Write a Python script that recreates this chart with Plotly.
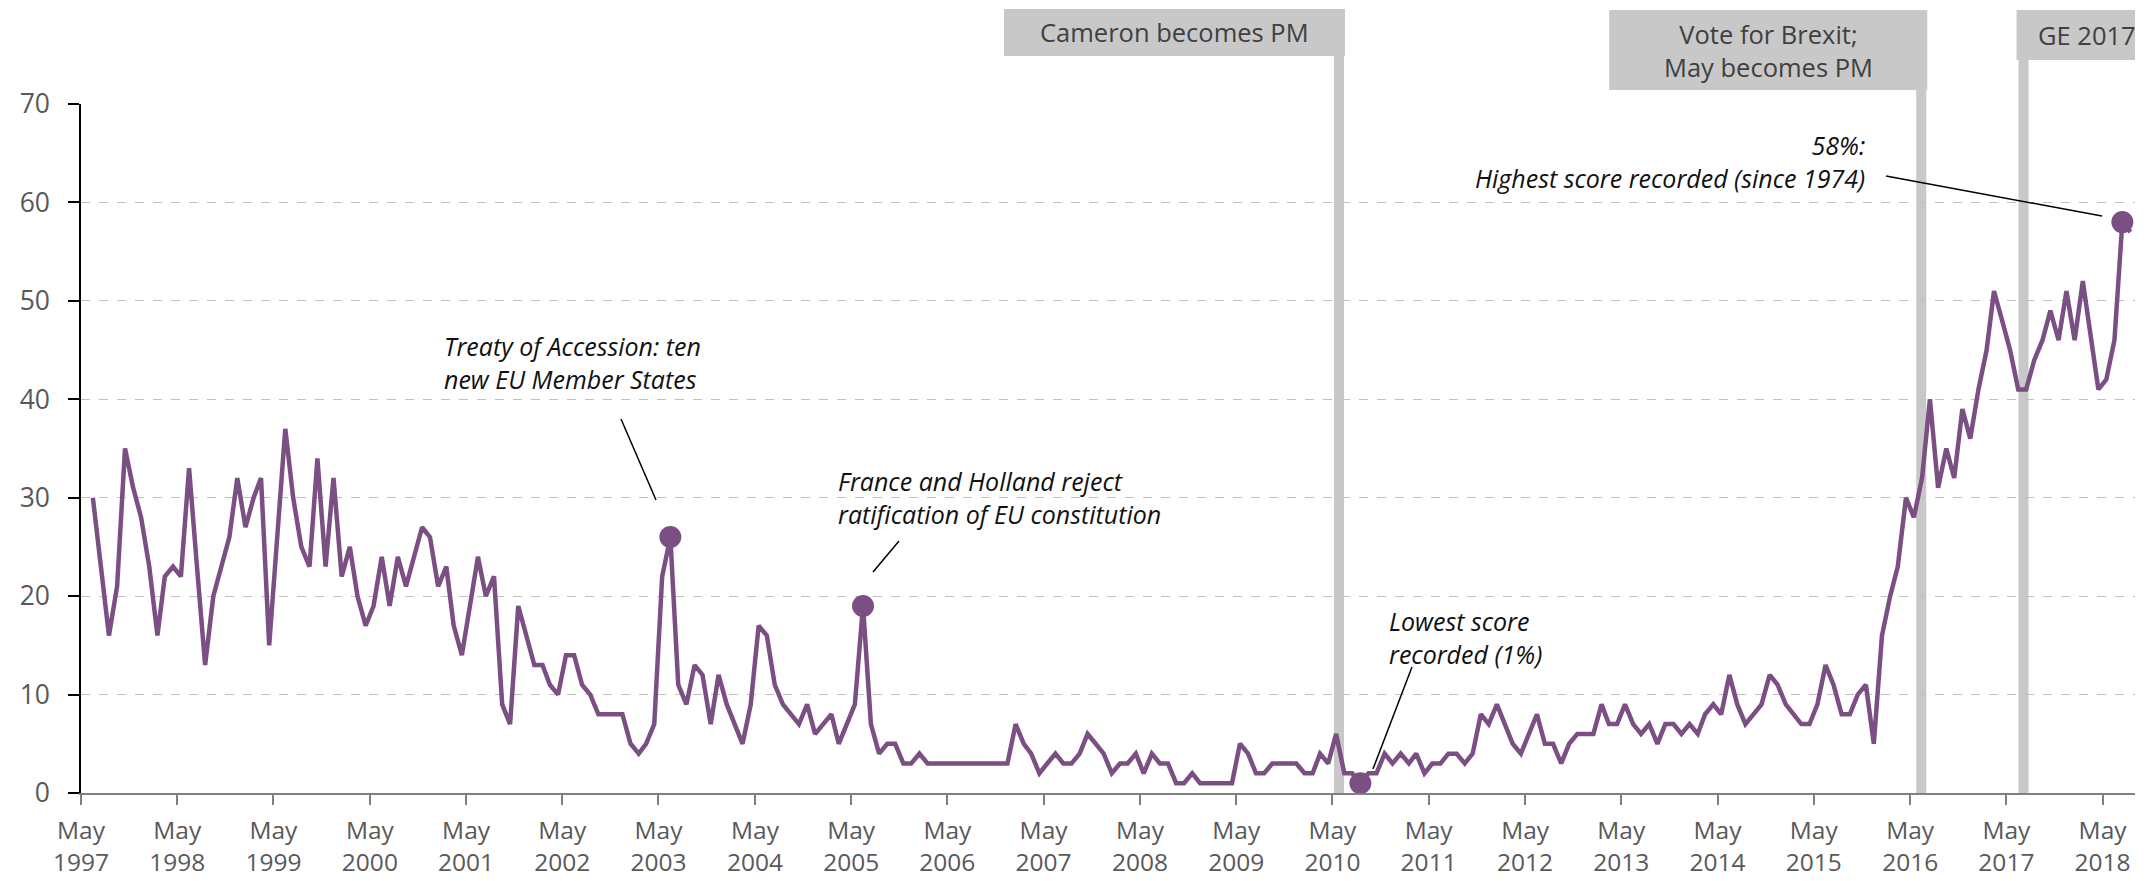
import pandas as pd
import plotly.graph_objects as go

# ---------------- data ----------------
start_month = "1997-06"
eu_concern = [
    30, 23, 16, 21, 35, 31, 28, 23, 16, 22, 23, 22,      # 1997-06 .. 1998-05
    33, 23, 13, 20, 23, 26, 32, 27, 30, 32, 15, 26,      # 1998-06 .. 1999-05
    37, 30, 25, 23, 34, 23, 32, 22, 25, 20, 17, 19,      # 1999-06 .. 2000-05
    24, 19, 24, 21, 24, 27, 26, 21, 23, 17, 14, 19,      # 2000-06 .. 2001-05
    24, 20, 22, 9, 7, 19, 16, 13, 13, 11, 10, 14,        # 2001-06 .. 2002-05
    14, 11, 10, 8, 8, 8, 8, 5, 4, 5, 7, 22,              # 2002-06 .. 2003-05
    26, 11, 9, 13, 12, 7, 12, 9, 7, 5, 9, 17,            # 2003-06 .. 2004-05
    16, 11, 9, 8, 7, 9, 6, 7, 8, 5, 7, 9,                # 2004-06 .. 2005-05
    19, 7, 4, 5, 5, 3, 3, 4, 3, 3, 3, 3,                 # 2005-06 .. 2006-05
    3, 3, 3, 3, 3, 3, 3, 7, 5, 4, 2, 3,                  # 2006-06 .. 2007-05
    4, 3, 3, 4, 6, 5, 4, 2, 3, 3, 4, 2,                  # 2007-06 .. 2008-05
    4, 3, 3, 1, 1, 2, 1, 1, 1, 1, 1, 5,                  # 2008-06 .. 2009-05
    4, 2, 2, 3, 3, 3, 3, 2, 2, 4, 3, 6,                  # 2009-06 .. 2010-05
    2, 2, 1, 2, 2, 4, 3, 4, 3, 4, 2, 3,                  # 2010-06 .. 2011-05
    3, 4, 4, 3, 4, 8, 7, 9, 7, 5, 4, 6,                  # 2011-06 .. 2012-05
    8, 5, 5, 3, 5, 6, 6, 6, 9, 7, 7, 9,                  # 2012-06 .. 2013-05
    7, 6, 7, 5, 7, 7, 6, 7, 6, 8, 9, 8,                  # 2013-06 .. 2014-05
    12, 9, 7, 8, 9, 12, 11, 9, 8, 7, 7, 9,               # 2014-06 .. 2015-05
    13, 11, 8, 8, 10, 11, 5, 16, 20, 23, 30, 28,         # 2015-06 .. 2016-05
    32, 40, 31, 35, 32, 39, 36, 41, 45, 51, 48, 45,      # 2016-06 .. 2017-05
    41, 41, 44, 46, 49, 46, 51, 46, 52, 47, 41, 42,      # 2017-06 .. 2018-05
    46, 58, 57,                                          # 2018-06 .. 2018-08
]

years = list(range(1997, 2019))
tick_labels = [f"May<br>{y}" for y in years]

event_labels = ["Cameron becomes PM", "Vote for Brexit;<br>May becomes PM", "GE 2017"]
event_dates = ["2010-05-26", "2016-06-12", "2017-07-05"]

highlight_months = ["2003-06", "2005-06", "2010-08", "2018-07"]
note_texts = [
    "Treaty of Accession: ten<br>new EU Member States",
    "France and Holland reject<br>ratification of EU constitution",
    "Lowest score<br>recorded (1%)",
    "58%:<br>Highest score recorded (since 1974)",
]

# ---------------- derived series ----------------
months = pd.period_range(start_month, periods=len(eu_concern), freq="M")
x_dates = months.to_timestamp() + pd.Timedelta(days=14)
series = pd.Series(eu_concern, index=months.astype(str))
hl_dates = [pd.Period(m, freq="M").to_timestamp() + pd.Timedelta(days=14) for m in highlight_months]
hl_values = [series[m] for m in highlight_months]

# ---------------- geometry / style ----------------
W, H = 2151, 881
L, R, T, B = 81, 16, 104, 88
PW, PH = W - L - R, H - T - B
PURPLE = "#7b4f84"
GREY_BOX = "#c8c8c8"
FONT = "Open Sans"


def px(x):
    return (x - L) / PW


def py(y):
    return (H - B - y) / PH


fig = go.Figure()
fig.add_trace(go.Scatter(x=x_dates, y=eu_concern, mode="lines",
                         line=dict(color=PURPLE, width=4.5), hoverinfo="x+y"))
fig.add_trace(go.Scatter(x=hl_dates, y=hl_values, mode="markers",
                         marker=dict(size=22, color=PURPLE)))

shapes = []
annotations = []

# event bars and boxes (box pixel extents relative to bar centre, top/bottom in px)
box_geom = [(-335, 6, 9, 56, -165), (-312, 6, 10, 90, -153), (-7, 128, 10, 60, 63)]
for lab, d, (bx0, bx1, btop, bbot, tx) in zip(event_labels, event_dates, box_geom):
    shapes.append(dict(type="line", xref="x", yref="paper", x0=d, x1=d, y0=0, y1=py(bbot),
                       line=dict(color=GREY_BOX, width=10), layer="between"))
    shapes.append(dict(type="rect", xref="x", xsizemode="pixel", xanchor=d, x0=bx0, x1=bx1,
                       yref="paper", y0=py(bbot), y1=py(btop), fillcolor=GREY_BOX,
                       line=dict(width=0), layer="between"))
    annotations.append(dict(x=d, xref="x", xshift=tx, y=py((btop + bbot) / 2), yref="paper",
                            text=lab, showarrow=False, xanchor="center", yanchor="middle",
                            font=dict(family=FONT, size=25.5, color="#404040")))

# notes: (anchor x px, centre y px, xanchor)
note_geom = [(442, 362, "left"), (836, 497, "left"), (1387, 637, "left"), (1867, 161, "right")]
for txt, (nx, ny, xa) in zip(note_texts, note_geom):
    annotations.append(dict(x=px(nx), y=py(ny), xref="paper", yref="paper", text=f"<i>{txt}</i>",
                            showarrow=False, xanchor=xa, yanchor="middle", align=xa,
                            font=dict(family=FONT, size=25, color="#111111")))

leaders = [((621, 419), (656, 500)), ((899, 541), (873, 572)),
           ((1412, 667), (1373, 769)), ((1886, 176), (2102, 216))]
for (x0, y0), (x1, y1) in leaders:
    shapes.append(dict(type="line", xref="paper", yref="paper", x0=px(x0), y0=py(y0),
                       x1=px(x1), y1=py(y1), line=dict(color="black", width=1.5)))

fig.update_layout(
    width=W, height=H,
    margin=dict(l=L, r=R, t=T, b=B, pad=0, autoexpand=False),
    paper_bgcolor="white", plot_bgcolor="white",
    showlegend=False,
    font=dict(family=FONT, color="#595959"),
    shapes=shapes, annotations=annotations,
    xaxis=dict(type="date", range=["1997-05-01", "2018-09-01"], automargin=False,
               tickvals=[f"{y}-05-01" for y in years], ticktext=tick_labels,
               tickfont=dict(size=24.5, color="#595959"),
               showgrid=False, zeroline=False,
               showline=True, linecolor="#808080", linewidth=2,
               ticks="outside", ticklen=10, tickcolor="#808080", tickwidth=1.5,
               ticklabelstandoff=5),
    yaxis=dict(range=[0, 70], dtick=10, tick0=0, automargin=False,
               tickfont=dict(size=26.5, color="#595959"),
               showgrid=True, gridcolor="#c0c0c0", griddash="dash", gridwidth=1,
               zeroline=False, showline=True, linecolor="black", linewidth=1.5,
               ticks="outside", ticklen=11, tickcolor="black", tickwidth=1.5,
               ticklabelstandoff=13),
)

fig.write_html("out.html", config={"displayModeBar": False},
               post_script="document.body.style.margin='0px';")
